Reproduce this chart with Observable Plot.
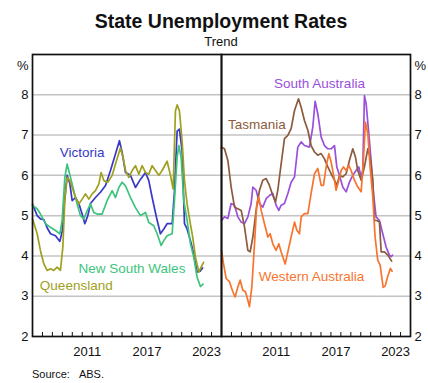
<!DOCTYPE html>
<html><head><meta charset="utf-8">
<script src="https://cdn.jsdelivr.net/npm/d3@7"></script>
<script src="https://cdn.jsdelivr.net/npm/@observablehq/plot@0.6"></script>
<style>
body{margin:0;background:#fff;font-family:"Liberation Sans",Arial,sans-serif;}
#wrap{position:relative;width:428px;height:383px;overflow:hidden;background:#fff;}
#title{position:absolute;left:0;width:442px;top:12px;text-align:center;font-weight:bold;font-size:19.5px;line-height:1;color:#111;}
#sub{position:absolute;left:0;width:442px;top:35px;text-align:center;font-size:13px;line-height:1;color:#111;}
#chart{position:absolute;left:0;top:48px;}
#src{position:absolute;left:32px;top:369px;font-size:11px;line-height:1;color:#111;}
</style>
</head><body>
<div id="wrap">
  <div id="title">State Unemployment Rates</div>
  <div id="sub">Trend</div>
  <div id="chart"></div>
  <div id="src">Source:<span style="margin-left:9px">ABS.</span></div>
</div>
<script>
// ---- data (year, % unemployment) ----
const victoria = [[2006.00,5.29],[2006.47,5.0],[2006.80,4.92],[2007.14,4.9],[2007.47,4.7],[2007.81,4.55],[2008.31,4.5],[2008.75,4.36],[2008.98,4.6],[2009.22,5.37],[2009.48,6.0],[2009.75,5.8],[2009.99,5.37],[2010.32,5.45],[2010.66,5.3],[2010.99,5.04],[2011.26,4.8],[2011.56,5.0],[2011.83,5.3],[2012.33,5.45],[2012.83,5.58],[2013.34,5.75],[2013.84,6.12],[2014.34,6.53],[2014.74,6.86],[2015.01,6.57],[2015.35,6.07],[2015.85,6.0],[2016.35,5.7],[2016.85,5.9],[2017.36,6.07],[2017.69,5.87],[2018.03,5.45],[2018.46,4.96],[2018.86,4.55],[2019.20,4.67],[2019.53,4.8],[2020.04,4.8],[2020.27,5.6],[2020.54,7.1],[2020.77,7.15],[2021.04,6.6],[2021.28,4.8],[2021.54,4.67],[2021.88,4.38],[2022.21,4.05],[2022.55,3.6],[2022.85,3.62],[2023.10,3.7]];
const newSouthWales = [[2006.00,5.25],[2006.47,5.17],[2006.80,5.04],[2007.31,4.8],[2007.81,4.71],[2008.31,4.63],[2008.75,4.55],[2008.98,4.88],[2009.25,5.95],[2009.48,6.28],[2009.82,5.95],[2010.15,5.62],[2010.49,5.29],[2010.82,5.0],[2011.16,4.92],[2011.49,5.12],[2011.83,5.29],[2012.16,5.08],[2012.50,5.04],[2013.00,5.04],[2013.50,5.37],[2014.01,5.62],[2014.34,5.45],[2014.68,5.7],[2015.01,5.83],[2015.35,5.74],[2015.85,5.45],[2016.35,5.2],[2016.85,5.0],[2017.36,5.08],[2017.69,4.83],[2018.19,4.75],[2018.53,4.55],[2018.93,4.26],[2019.20,4.38],[2019.53,4.5],[2020.04,4.55],[2020.27,5.37],[2020.54,6.45],[2020.71,6.74],[2020.94,6.45],[2021.21,5.37],[2021.54,4.88],[2021.88,4.3],[2022.21,3.97],[2022.55,3.47],[2022.88,3.24],[2023.15,3.3]];
const queensland = [[2006.00,4.92],[2006.47,4.55],[2006.80,4.13],[2007.14,3.8],[2007.47,3.64],[2007.81,3.68],[2008.14,3.64],[2008.48,3.72],[2008.81,3.64],[2009.05,4.22],[2009.25,5.37],[2009.48,5.95],[2009.75,5.87],[2009.99,5.7],[2010.32,5.45],[2010.66,5.29],[2010.99,5.41],[2011.33,5.54],[2011.66,5.41],[2012.00,5.54],[2012.33,5.62],[2012.67,5.79],[2012.90,6.07],[2013.17,5.87],[2013.57,5.83],[2014.01,6.0],[2014.44,6.36],[2014.84,6.68],[2015.10,6.45],[2015.35,6.12],[2015.68,5.95],[2016.02,6.12],[2016.35,6.24],[2016.69,6.03],[2017.02,6.24],[2017.36,6.07],[2017.69,6.03],[2018.03,6.24],[2018.36,6.12],[2018.70,6.0],[2019.03,6.12],[2019.53,6.35],[2019.87,6.0],[2020.14,5.66],[2020.37,7.6],[2020.54,7.75],[2020.77,7.6],[2021.04,6.86],[2021.28,5.87],[2021.54,5.29],[2021.81,4.88],[2022.11,4.46],[2022.38,3.97],[2022.72,3.6],[2022.95,3.72],[2023.20,3.84]];
const southAustralia = [[2006.00,4.88],[2006.30,4.97],[2006.64,4.93],[2006.97,5.3],[2007.31,5.26],[2007.64,4.97],[2007.98,4.84],[2008.31,4.8],[2008.65,4.97],[2008.98,5.3],[2009.15,5.71],[2009.48,5.63],[2009.82,5.3],[2010.15,5.21],[2010.49,5.42],[2010.82,5.5],[2011.16,5.55],[2011.49,5.26],[2011.76,5.13],[2012.00,5.26],[2012.33,5.3],[2012.67,5.55],[2013.00,5.83],[2013.34,5.96],[2013.67,6.7],[2014.01,6.83],[2014.34,6.74],[2014.84,6.7],[2015.18,7.2],[2015.41,7.84],[2015.68,7.53],[2016.02,6.95],[2016.35,6.74],[2016.69,6.66],[2017.02,6.66],[2017.36,6.74],[2017.59,6.21],[2017.86,6.0],[2018.19,5.71],[2018.53,5.59],[2018.86,5.83],[2019.20,6.0],[2019.53,6.12],[2019.80,6.21],[2020.04,5.96],[2020.20,6.12],[2020.37,7.98],[2020.54,7.78],[2020.81,7.03],[2021.04,6.37],[2021.28,5.55],[2021.54,4.97],[2021.88,4.88],[2022.21,4.55],[2022.55,4.22],[2022.88,4.02],[2023.05,3.98],[2023.20,4.02]];
const tasmania = [[2006.00,6.7],[2006.30,6.66],[2006.64,6.37],[2006.97,5.71],[2007.31,5.21],[2007.64,5.17],[2007.98,5.13],[2008.31,4.72],[2008.65,4.14],[2008.88,4.1],[2009.15,4.47],[2009.48,5.13],[2009.82,5.63],[2010.15,5.88],[2010.49,5.92],[2010.82,5.75],[2011.16,5.5],[2011.43,5.34],[2011.66,5.63],[2012.00,6.29],[2012.33,6.91],[2012.67,6.99],[2013.00,7.16],[2013.34,7.61],[2013.74,7.9],[2014.01,7.69],[2014.34,7.36],[2014.68,7.12],[2015.01,6.74],[2015.35,6.58],[2015.68,6.5],[2016.02,6.54],[2016.35,6.41],[2016.69,6.21],[2017.02,6.04],[2017.36,5.88],[2017.59,5.75],[2017.86,6.0],[2018.19,5.96],[2018.53,6.04],[2018.86,6.37],[2019.20,6.66],[2019.47,6.45],[2019.70,6.12],[2020.04,5.88],[2020.37,6.21],[2020.71,6.66],[2020.94,6.45],[2021.21,5.88],[2021.38,4.88],[2021.61,4.88],[2021.88,4.84],[2022.05,4.1],[2022.38,4.1],[2022.72,4.02],[2023.10,3.87]];
const westernAustralia = [[2006.00,4.14],[2006.20,3.81],[2006.47,3.44],[2006.80,3.36],[2007.14,3.11],[2007.37,2.98],[2007.64,3.23],[2007.88,3.4],[2008.14,3.15],[2008.41,3.11],[2008.65,2.9],[2008.81,2.74],[2009.05,3.23],[2009.32,4.3],[2009.55,5.3],[2009.75,5.46],[2009.99,5.13],[2010.32,4.8],[2010.66,4.47],[2010.89,4.55],[2011.16,4.3],[2011.49,4.14],[2011.76,4.3],[2012.00,4.1],[2012.40,3.8],[2012.67,4.1],[2013.00,4.47],[2013.34,4.84],[2013.57,4.64],[2013.84,4.55],[2014.01,4.97],[2014.34,5.05],[2014.68,5.05],[2015.01,5.55],[2015.35,6.04],[2015.68,6.17],[2016.02,5.75],[2016.25,5.75],[2016.52,6.21],[2016.79,6.54],[2017.02,6.33],[2017.36,5.88],[2017.52,5.63],[2017.79,5.88],[2018.03,6.12],[2018.26,6.21],[2018.53,6.12],[2018.80,6.25],[2019.03,6.12],[2019.37,5.88],[2019.70,5.71],[2020.04,5.59],[2020.27,6.37],[2020.47,7.32],[2020.71,7.03],[2020.94,6.21],[2021.21,5.46],[2021.44,4.47],[2021.71,3.89],[2021.95,3.77],[2022.25,3.22],[2022.45,3.25],[2022.72,3.5],[2022.98,3.69],[2023.15,3.62]];

const panels = ["left", "right"];
const stateNames = ["Victoria", "New South Wales", "Queensland", "South Australia", "Tasmania", "Western Australia"];
const stateColors = ["#3838c8", "#3cc47c", "#a0a020", "#9a50da", "#8b5b3b", "#f8742e"];
const statePanels = ["left", "left", "left", "right", "right", "right"];
const stateSeries = [victoria, newSouthWales, queensland, southAustralia, tasmania, westernAustralia];

const yTicks = [2, 3, 4, 5, 6, 7, 8];
const gridLevels = [3, 4, 5, 6, 7, 8];
const yearTicks = d3.range(2007, 2025);
const yearLabels = [2011, 2017, 2023];

// label anchors (data coordinates) for each series name
const labelYears = [2011.0, 2016.0, 2010.4, 2015.85, 2009.55, 2015.05];
const labelValues = [6.57, 3.69, 3.27, 8.28, 7.26, 3.49];

// ---- build tables ----
const rows = stateSeries.flatMap((s, i) => s.map(([year, value]) => ({panel: statePanels[i], state: stateNames[i], year, value})));
const labels = stateNames.map((state, i) => ({panel: statePanels[i], state, year: labelYears[i], value: labelValues[i]}));

const chart = Plot.plot({
  width: 428, height: 314,
  marginTop: 6, marginBottom: 26, marginLeft: 32, marginRight: 18,
  style: {fontFamily: "Liberation Sans, Arial, sans-serif", fontSize: "13px", background: "white", color: "#111", overflow: "visible"},
  fx: {domain: panels, padding: 0, axis: null, label: null},
  x: {domain: [2006, 2025], label: null},
  y: {domain: [2, 9], label: null},
  color: {domain: stateNames, range: stateColors},
  marks: [
    Plot.ruleY(gridLevels, {stroke: "#c4c4c4", strokeWidth: 1.5}),
    Plot.ruleX(yearTicks, {y1: 2, y2: 2.1, stroke: "#111", strokeWidth: 1}),
    Plot.line(rows, {fx: "panel", x: "year", y: "value", z: "state", stroke: "state", strokeWidth: 1.7}),
    Plot.text(labels, {fx: "panel", x: "year", y: "value", text: "state", fill: "state", fontSize: 13.5}),
    Plot.frame({stroke: "#111", strokeWidth: 1.7}),
    Plot.axisY({anchor: "left", ticks: yTicks, tickSize: 0, tickPadding: 4, tickFormat: d => String(d), fontSize: 13, label: null}),
    Plot.axisY({anchor: "right", ticks: yTicks, tickSize: 0, tickPadding: 4, tickFormat: d => String(d), fontSize: 13, label: null}),
    Plot.axisX({ticks: yearLabels.map(y => y + 0.5), tickSize: 0, tickPadding: 10, tickFormat: d => String(Math.floor(d)), fontSize: 13, label: null}),
    Plot.text([{panel: "left"}], {fx: "panel", text: () => "%", frameAnchor: "top-left", dx: -4, dy: 6, textAnchor: "end", fontSize: 13}),
    Plot.text([{panel: "right"}], {fx: "panel", text: () => "%", frameAnchor: "top-right", dx: 4, dy: 6, textAnchor: "start", fontSize: 13})
  ]
});
document.getElementById("chart").appendChild(chart);
</script>
</body></html>
